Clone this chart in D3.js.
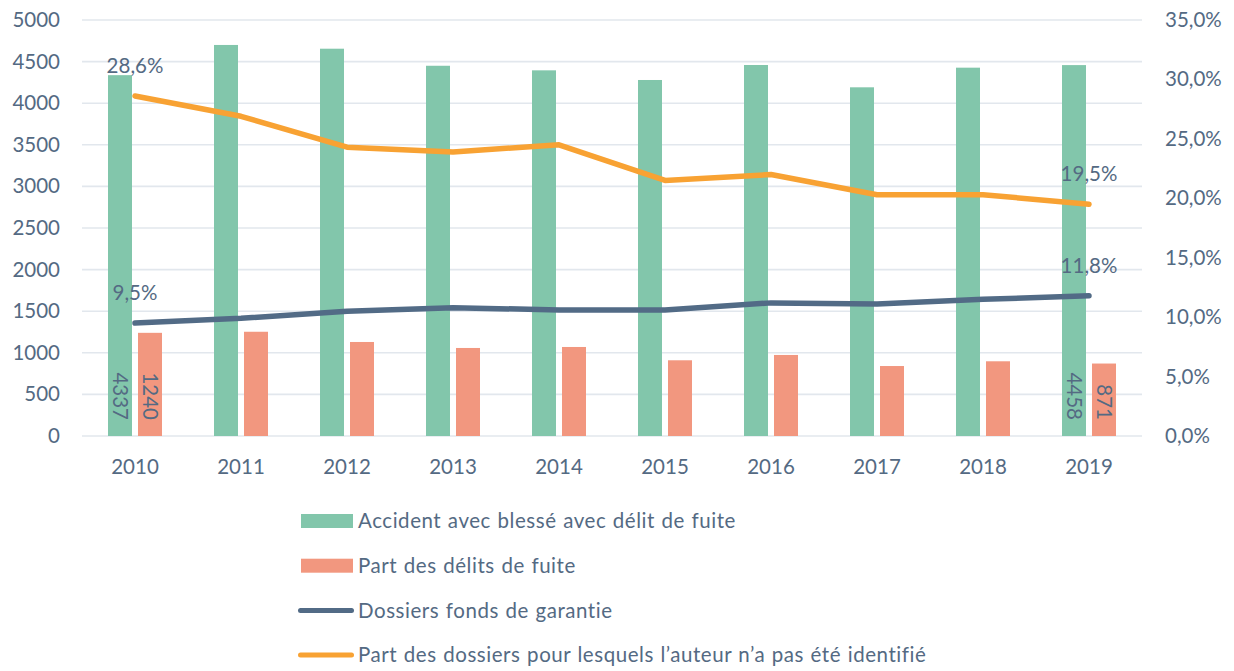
<!DOCTYPE html>
<html>
<head>
<meta charset="utf-8">
<script src="https://cdn.jsdelivr.net/npm/d3@7"></script>
<style>
  html, body { margin: 0; padding: 0; background: #ffffff; }
  svg { display: block; }
  text { font-family: Lato, "Open Sans", sans-serif; }
</style>
</head>
<body>
<svg id="chart" width="1234" height="671"></svg>
<script>
// ---- data ----
const years = ["2010","2011","2012","2013","2014","2015","2016","2017","2018","2019"];
const accidents = [4337, 4700, 4655, 4450, 4395, 4279, 4459, 4191, 4427, 4458];
const delits = [1240, 1253, 1130, 1058, 1070, 910, 974, 841, 898, 871];
const dossiersFonds = [9.5, 9.9, 10.5, 10.8, 10.6, 10.6, 11.2, 11.1, 11.5, 11.8];
const auteurNonIdentifie = [28.6, 26.9, 24.3, 23.9, 24.5, 21.5, 22.0, 20.3, 20.3, 19.5];
const leftTicks = [0, 500, 1000, 1500, 2000, 2500, 3000, 3500, 4000, 4500, 5000];
const rightTicks = [0, 5, 10, 15, 20, 25, 30, 35];
const barSeriesNames = ["Accident avec blessé avec délit de fuite", "Part des délits de fuite"];
const lineSeriesNames = ["Dossiers fonds de garantie", "Part des dossiers pour lesquels l\u2019auteur n\u2019a pas été identifié"];

// ---- styles ----
const textColor = "#546a83";
const colGreen = "#82c6ab";
const colSalmon = "#f2977f";
const colDark = "#526b86";
const colOrange = "#f8a233";
const gridColor = "#e2e7ed";
const fontSize = 20.5;

const fr = d3.formatLocale({decimal: ",", thousands: "\u00a0", grouping: [3], currency: ["", " €"]});
const pct = v => fr.format(".1f")(v) + "%";

const svg = d3.select("#chart");
const plot = {left: 82, right: 1142, top: 20, bottom: 436};

const x = d3.scaleBand().domain(years).range([plot.left, plot.right])
  .paddingInner(52/106).paddingOuter(26/106);
const xSub = d3.scaleBand().domain([0, 1]).range([0, x.bandwidth()]).paddingInner(0.2);
const yL = d3.scaleLinear().domain([0, 5000]).range([plot.bottom, plot.top]);
const yR = d3.scaleLinear().domain([0, 35]).range([plot.bottom, plot.top]);
const cx = d => x(d) + x.bandwidth() / 2;

// gridlines
svg.append("g").selectAll("line").data(leftTicks).join("line")
  .attr("x1", plot.left).attr("x2", plot.right)
  .attr("y1", d => yL(d)).attr("y2", d => yL(d))
  .attr("stroke", gridColor).attr("stroke-width", 1.6);

// left axis
const axL = svg.append("g").attr("transform", `translate(${plot.left},0)`)
  .call(d3.axisLeft(yL).tickValues(leftTicks).tickSize(0).tickPadding(22).tickFormat(d3.format("d")));
axL.select(".domain").remove();
axL.selectAll("text").attr("fill", textColor).style("font-size", fontSize + "px")
  .style("font-family", "Lato, sans-serif");

// right axis
const axR = svg.append("g").attr("transform", `translate(${plot.right},0)`)
  .call(d3.axisRight(yR).tickValues(rightTicks).tickSize(0).tickPadding(23).tickFormat(pct));
axR.select(".domain").remove();
axR.selectAll("text").attr("fill", textColor).style("font-size", fontSize + "px")
  .style("font-family", "Lato, sans-serif");

// bottom axis
const axB = svg.append("g").attr("transform", `translate(0,${plot.bottom})`)
  .call(d3.axisBottom(x).tickSize(0).tickPadding(23));
axB.select(".domain").remove();
axB.selectAll("text").attr("fill", textColor).style("font-size", fontSize + "px")
  .style("font-family", "Lato, sans-serif");

// bars
const barData = years.map((yr, i) => ({yr, vals: [accidents[i], delits[i]]}));
const barCols = [colGreen, colSalmon];
const groups = svg.append("g").selectAll("g").data(barData).join("g")
  .attr("transform", d => `translate(${x(d.yr)},0)`);
groups.selectAll("rect").data(d => d.vals.map((v, k) => ({v, k}))).join("rect")
  .attr("x", d => xSub(d.k)).attr("width", xSub.bandwidth())
  .attr("y", d => yL(d.v)).attr("height", d => yL(0) - yL(d.v))
  .attr("fill", d => barCols[d.k]);

// bar value labels (first and last years), rotated inside base
const labelIdx = [0, years.length - 1];
labelIdx.forEach(i => {
  [accidents[i], delits[i]].forEach((v, k) => {
    const bx = x(years[i]) + xSub(k) + xSub.bandwidth() / 2;
    const by = yL(0) - 16;
    svg.append("text")
      .attr("transform", `translate(${bx},${by}) rotate(90)`)
      .attr("text-anchor", "end").attr("dy", "0.35em")
      .attr("fill", textColor).style("font-size", fontSize + "px")
      .text(v);
  });
});

// lines
const lineGen = d3.line().x((d, i) => cx(years[i])).y(d => yR(d));
[[dossiersFonds, colDark], [auteurNonIdentifie, colOrange]].forEach(([vals, col]) => {
  svg.append("path").datum(vals).attr("d", lineGen)
    .attr("fill", "none").attr("stroke", col).attr("stroke-width", 5.5)
    .attr("stroke-linecap", "round").attr("stroke-linejoin", "round");
  labelIdx.forEach(i => {
    svg.append("text").attr("x", cx(years[i])).attr("y", yR(vals[i]) - 23)
      .attr("text-anchor", "middle").attr("fill", textColor)
      .style("font-size", fontSize + "px").text(pct(vals[i]));
  });
});

// legend
const legendItems = [
  {name: barSeriesNames[0], type: "rect", col: colGreen},
  {name: barSeriesNames[1], type: "rect", col: colSalmon},
  {name: lineSeriesNames[0], type: "line", col: colDark},
  {name: lineSeriesNames[1], type: "line", col: colOrange}
];
const lg = svg.append("g");
legendItems.forEach((it, i) => {
  const cy = 521 + i * 44.7;
  if (it.type === "rect") {
    lg.append("rect").attr("x", 301).attr("y", cy - 7).attr("width", 52).attr("height", 14).attr("fill", it.col);
  } else {
    lg.append("line").attr("x1", 300.5).attr("x2", 351.5).attr("y1", cy).attr("y2", cy)
      .attr("stroke", it.col).attr("stroke-width", 5).attr("stroke-linecap", "round");
  }
  lg.append("text").attr("x", 358).attr("y", cy).attr("dy", "0.35em")
    .attr("fill", textColor).style("font-size", fontSize + "px")
    .style("letter-spacing", "0.55px").style("word-spacing", "0.8px").text(it.name);
});
</script>
</body>
</html>
